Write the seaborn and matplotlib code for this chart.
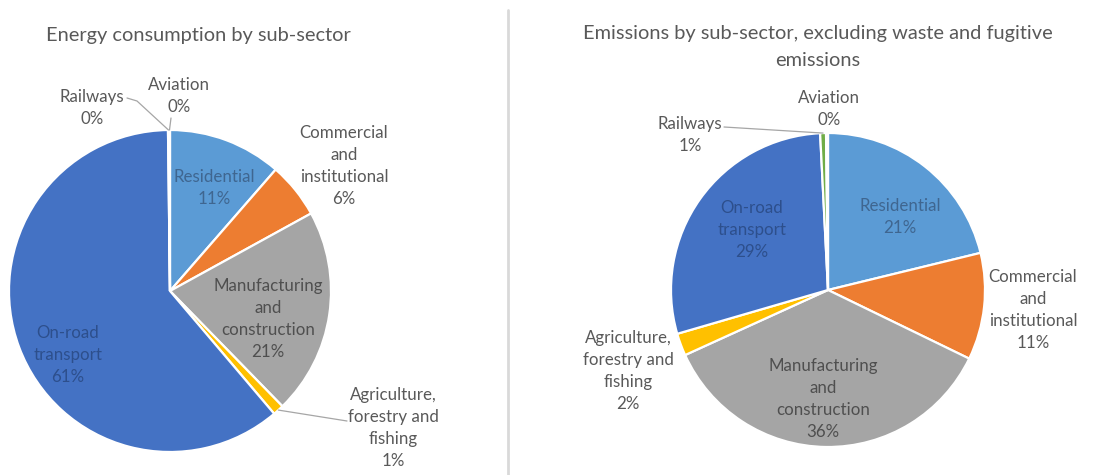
import matplotlib
matplotlib.use("Agg")
import matplotlib.pyplot as plt
import seaborn as sns
from matplotlib.lines import Line2D
import numpy as np

# Sub-sector shares (%) in drawing order, clockwise from 12 o'clock
sectors = ["Residential", "Commercial and institutional", "Manufacturing and construction",
           "Agriculture, forestry and fishing", "On-road transport", "Railways", "Aviation"]
sector_lines = ["Residential", "Commercial\nand\ninstitutional", "Manufacturing\nand\nconstruction",
                "Agriculture,\nforestry and\nfishing", "On-road\ntransport", "Railways", "Aviation"]
energy_share = [11.4, 5.6, 20.7, 1.1, 61.0, 0.1, 0.1]
emissions_share = [21.2, 11.0, 36.0, 2.3, 28.7, 0.6, 0.2]
sector_colors = ["#5B9BD5", "#ED7D31", "#A5A5A5", "#FFC000", "#4472C4", "#70AD47", "#264478"]

energy_title = "Energy consumption by sub-sector"
emissions_title = "Emissions by sub-sector, excluding waste and fugitive\nemissions"

sns.set_theme(style="white")
plt.rcParams["font.family"] = ["Lato", "DejaVu Sans"]

W, H = 1099, 475
fig = plt.figure(figsize=(W / 100, H / 100), dpi=100)
fig.patch.set_facecolor("white")
ax = fig.add_axes([0, 0, 1, 1])

OUT = "#595959"
label_colors = ["#3F6690", OUT, "#4F4F4F", OUT, "#2D4F8C", OUT, OUT]

# Layout of each pie: centre, radius, title placement, label anchors (pixel space)
layouts = [
    dict(values=energy_share, center=(170, 291), radius=161,
         title=energy_title, title_xy=(198, 36),
         labels=[(214, 188), (344, 166), (268, 319), (393, 428), (68, 355), (92, 108), (179, 96)],
         inside=[True, False, True, False, True, False, False],
         leaders={3: [(347, 421)], 5: [(127, 98), (137, 101)], 6: [(171, 118)]}),
    dict(values=emissions_share, center=(828, 290), radius=157,
         title=emissions_title, title_xy=(818, 47),
         labels=[(900, 217), (1033, 310), (823, 399), (628, 371), (752, 230), (690, 135), (829, 109)],
         inside=[True, False, True, False, True, False, False],
         leaders={5: [(724, 127)]}),
]

for lay in layouts:
    cx, cy = lay["center"]
    r = lay["radius"]
    # y axis is inverted below, so start at -90 and run counterclockwise in data
    # space, which reads clockwise from the top on screen
    wedges, _ = ax.pie(lay["values"], colors=sector_colors, startangle=-90,
                       counterclock=True, center=(cx, cy), radius=r,
                       wedgeprops=dict(edgecolor="white", linewidth=1.6))
    for i, (w, v) in enumerate(zip(wedges, lay["values"])):
        lx, ly = lay["labels"][i]
        txt = f"{sector_lines[i]}\n{v:.0f}%"
        ax.text(lx, ly, txt, ha="center", va="center", fontsize=12.2,
                color=label_colors[i] if lay["inside"][i] else OUT,
                linespacing=1.45, zorder=5)
        if i in lay["leaders"]:
            mid = np.deg2rad((w.theta1 + w.theta2) / 2)
            ex, ey = cx + r * np.cos(mid), cy + r * np.sin(mid)
            pts = lay["leaders"][i] + [(ex, ey)]
            xs, ys = zip(*pts)
            ax.plot(xs, ys, color="#A6A6A6", lw=0.9, zorder=4)
    tx, ty = lay["title"], lay["title_xy"]
    ax.text(ty[0], ty[1], tx, ha="center", va="center", fontsize=14.4,
            color=OUT, linespacing=1.65)

ax.set_xlim(0, W)
ax.set_ylim(H, 0)
ax.set_aspect("equal")
ax.axis("off")

# Divider between the two charts
fig.add_artist(Line2D([508 / W, 508 / W], [0, 1 - 10 / H], color="#D9D9D9", lw=2))

fig.savefig("out.png", dpi=100, facecolor="white")
